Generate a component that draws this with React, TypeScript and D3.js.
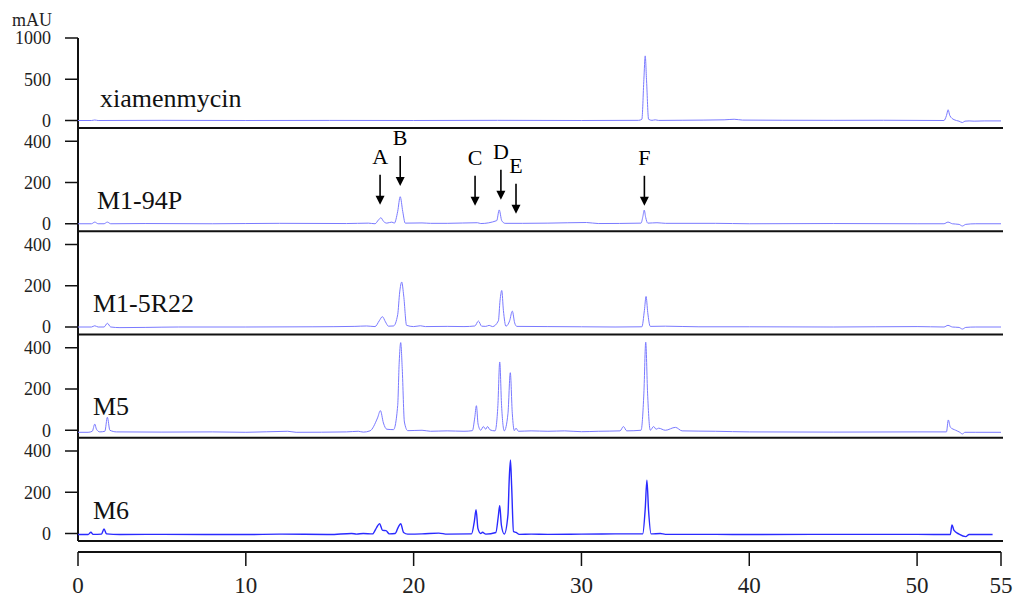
import React from 'react';
import * as d3 from 'd3';

// sample names, top to bottom
const samples = ['xiamenmycin', 'M1-94P', 'M1-5R22', 'M5', 'M6'];

// y tick values for each panel (mAU)
const yTicks = [
  [0, 500, 1000],
  [0, 200, 400],
  [0, 200, 400],
  [0, 200, 400],
  [0, 200, 400],
];

const xTicks = [0, 10, 20, 30, 40, 50, 55];

// [retention time (min), absorbance (mAU)]
const xiamenmycin = [
  [0, 0], [0.8, 0], [1.0, 6], [1.2, 0], [5, 2], [10, 0], [15, 1], [20, 0], [25, 2], [30, 0],
  [33.4, 2], [33.6, 15], [33.72, 500], [33.8, 783], [33.88, 480], [34.0, 15], [34.2, 2], [34.4, 8],
  [34.6, 1], [36, 3], [38.5, 8], [39.1, 15], [39.6, 5], [42, 3], [45, 2], [48, 3], [51.6, 0],
  [51.75, 60], [51.85, 130], [51.95, 60], [52.2, 10], [52.5, -8], [52.7, -25], [52.85, -8],
  [53.1, -5], [53.4, -8], [54, -5], [55, -5],
];

const m194p = [
  [0, 0], [0.8, 0], [1.0, 8], [1.2, 0], [1.55, 0], [1.75, 8], [1.95, 0], [4, 1], [8, 0], [12, 2],
  [16, 1], [17.3, 3], [17.7, 0], [17.9, 18], [18.05, 29], [18.2, 12], [18.4, 3], [18.7, 8],
  [18.85, 3], [19.05, 60], [19.2, 131], [19.35, 60], [19.5, 3], [20.5, 4], [21, 2], [22, 2],
  [23.8, 5], [24, 1], [24.95, 15], [25.1, 67], [25.25, 15], [25.45, 2], [26.5, 2], [28, 3],
  [30.3, 6], [31, 1], [33.55, 3], [33.66, 35], [33.74, 66], [33.83, 30], [33.95, 3], [34.5, 5],
  [35, 2], [38, 2], [40, 0], [45, 1], [50, 0], [51.6, 0], [51.84, 8], [52.1, 0], [52.5, -3],
  [52.7, -11], [52.9, -3], [53.5, 0], [55, 0],
];

const m15r22 = [
  [0, 0], [0.8, 0], [1.0, 6], [1.2, 0], [1.55, 0], [1.75, 18], [1.95, 0], [2.5, -3], [4, -2],
  [6, 0], [10, 0], [14, 1], [16.5, 3], [17.2, 5], [17.7, 2], [17.95, 30], [18.14, 50], [18.32, 25],
  [18.5, 4], [18.8, 5], [19.05, 60], [19.17, 170], [19.29, 218], [19.41, 150], [19.58, 8],
  [20.0, 2], [20.4, 6], [20.7, 2], [22, 3], [23, 2], [23.65, 5], [23.86, 29], [24.05, 4], [24.3, 3],
  [24.5, 8], [24.7, 2], [25.05, 30], [25.15, 130], [25.25, 177], [25.35, 80], [25.5, 4],
  [25.72, 30], [25.88, 77], [26.02, 20], [26.15, 3], [28, 2], [30, 1], [32, 0], [33.6, 1],
  [33.75, 80], [33.85, 148], [33.95, 70], [34.1, 3], [35, 4], [37, 1], [40, 1], [45, 0], [50, 2],
  [51.6, 0], [51.84, 8], [52.1, 0], [52.5, -2], [52.7, -10], [52.9, -2], [53.5, 0], [55, 0],
];

const m5 = [
  [0, -10], [0.6, -10], [0.85, -5], [1.0, 30], [1.1, 5], [1.3, -8], [1.6, -5], [1.75, 63],
  [1.9, 0], [2.3, -8], [5, -9], [8, -8], [10, -10], [12.5, -5], [13, -10], [16, -8], [16.7, -5],
  [17.0, -9], [17.4, -3], [17.85, 60], [18.02, 95], [18.2, 35], [18.4, 5], [18.8, 3], [19.05, 120],
  [19.14, 330], [19.23, 425], [19.32, 300], [19.45, 40], [19.65, -2], [20.5, 0], [21, -5], [22, -3],
  [23, -5], [23.5, -2], [23.64, 60], [23.74, 119], [23.84, 30], [24.0, 0], [24.15, 18], [24.3, 5],
  [24.4, 18], [24.55, 2], [24.85, -3], [25.02, 120], [25.13, 331], [25.24, 120], [25.4, -3],
  [25.62, 80], [25.76, 279], [25.88, 80], [26.0, -2], [26.1, 10], [26.25, -5], [27, -3], [28, -5],
  [29, -3], [30, -7], [31, -5], [32.3, -3], [32.5, 18], [32.7, -3], [33.55, 0], [33.72, 180],
  [33.83, 427], [33.94, 180], [34.1, 0], [34.3, 18], [34.45, 5], [34.6, 10], [35, 0], [35.6, 14],
  [36, -3], [38, -5], [40, -8], [45, -9], [50, -8], [51.75, -8], [51.86, 50], [51.98, 15],
  [52.3, 0], [52.55, -10], [52.7, -18], [52.85, -10], [53.5, -10], [55, -10],
];

const m6 = [
  [0, -5], [0.6, -5], [0.77, 6], [0.9, -4], [1.4, -3], [1.55, 22], [1.7, -2], [2.5, -5],
  [5, -4], [10, -5], [12, -3], [15, -5], [16.3, 0], [16.6, -3], [17.0, 0], [17.55, -2],
  [17.8, 30], [17.97, 48], [18.15, 15], [18.35, 14], [18.55, -2], [18.9, 0], [19.08, 30],
  [19.23, 47], [19.4, 5], [19.65, -3], [20.5, -2], [21.5, 2], [22, -3], [23.45, -2], [23.62, 60],
  [23.72, 116], [23.83, 25], [24.0, 0], [24.1, 6], [24.3, -3], [24.9, 5], [25.04, 80],
  [25.13, 135], [25.23, 40], [25.4, -3], [25.62, 90], [25.7, 270], [25.77, 357], [25.84, 230],
  [25.95, 10], [26.1, 5], [26.3, -4], [27, -3], [28, -4], [30, -3], [32, -2], [33.65, -2],
  [33.8, 120], [33.9, 259], [34.0, 110], [34.15, -2], [34.7, 0], [35, -4], [38, -4], [40, -5],
  [45, -4], [50, -4], [51.98, -5], [52.08, 42], [52.2, 15], [52.5, -3], [52.9, -15], [53.1, -5],
  [54.5, -5],
];

const traces = [xiamenmycin, m194p, m15r22, m5, m6];

// peak markers drawn in the M1-94P panel: label, time, arrow tip (mAU)
const peakLabels = ['A', 'B', 'C', 'D', 'E', 'F'];
const peakTimes = [18.0, 19.2, 23.66, 25.2, 26.1, 33.75];
const peakTips = [92, 183, 87, 116, 48, 87];

const W = 1024;
const H = 611;
const serif = '"Liberation Serif", "Times New Roman", serif';

export default function App() {
  const x = d3.scaleLinear().domain([0, 55]).range([78, 1001]);
  const panelBottom = (i: number) => 128 + i * 103.25;

  const yScales = samples.map((_, i) => {
    const b = panelBottom(i);
    const max = yTicks[i][yTicks[i].length - 1];
    return d3.scaleLinear().domain([0, max]).range([b - 7.5, b - 90]);
  });

  const line = (ys: d3.ScaleLinear<number, number>) =>
    d3.line<number[]>()
      .x((d) => x(d[0]))
      .y((d) => ys(d[1]))
      .curve(d3.curveMonotoneX);

  const axisY = 552;
  const arrowLen = 30;

  return (
    <svg width={W} height={H} style={{ position: 'absolute', left: 0, top: 0 }}>
      <rect width={W} height={H} fill="#fff" />

      <text x={12} y={26} fontFamily={serif} fontSize={18} fill="#222">mAU</text>

      {/* left axis line */}
      <line x1={78} x2={78} y1={yScales[0](1000)} y2={panelBottom(4)} stroke="#111" strokeWidth={2} />

      {samples.map((name, i) => {
        const ys = yScales[i];
        const b = panelBottom(i);
        return (
          <g key={name}>
            {yTicks[i].map((t) => (
              <g key={t}>
                <line x1={65} x2={78} y1={ys(t)} y2={ys(t)} stroke="#111" strokeWidth={1.5} />
                <text x={51} y={ys(t)} dy="0.35em" textAnchor="end" fontFamily={serif} fontSize={18} fill="#222">
                  {t}
                </text>
              </g>
            ))}
            <path
              d={line(ys)(traces[i]) || ''}
              fill="none"
              stroke={i === 4 ? '#2a2aff' : '#7a7aff'}
              strokeWidth={i === 4 ? 1.4 : 1}
            />
            <line x1={78} x2={1003} y1={b} y2={b} stroke="#111" strokeWidth={2} />
            <text
              x={i === 0 ? 100 : i === 1 ? 97 : 93}
              y={ys(0) - (i === 0 ? 14 : 15)}
              fontFamily={serif}
              fontSize={26}
              fill="#111"
            >
              {name}
            </text>
          </g>
        );
      })}

      {/* peak arrows */}
      {peakLabels.map((lab, k) => {
        const ys = yScales[1];
        const px = x(peakTimes[k]);
        const tip = ys(peakTips[k]);
        const top = tip - arrowLen;
        return (
          <g key={lab}>
            <line x1={px} x2={px} y1={top} y2={tip - 8} stroke="#000" strokeWidth={1.6} />
            <path d={`M${px - 4.5},${tip - 9} L${px + 4.5},${tip - 9} L${px},${tip} Z`} fill="#000" />
            <text x={px} y={top - 11} textAnchor="middle" fontFamily={serif} fontSize={22} fill="#000">
              {lab}
            </text>
          </g>
        );
      })}

      {/* bottom time axis */}
      <line x1={x(0)} x2={x(55)} y1={axisY} y2={axisY} stroke="#111" strokeWidth={2} />
      {xTicks.map((t) => (
        <g key={t}>
          <line x1={x(t)} x2={x(t)} y1={axisY} y2={axisY + 14} stroke="#111" strokeWidth={1.5} />
          <text x={x(t)} y={axisY + 33} dy="0.35em" textAnchor="middle" fontFamily={serif} fontSize={23} fill="#222">
            {t}
          </text>
        </g>
      ))}
    </svg>
  );
}
